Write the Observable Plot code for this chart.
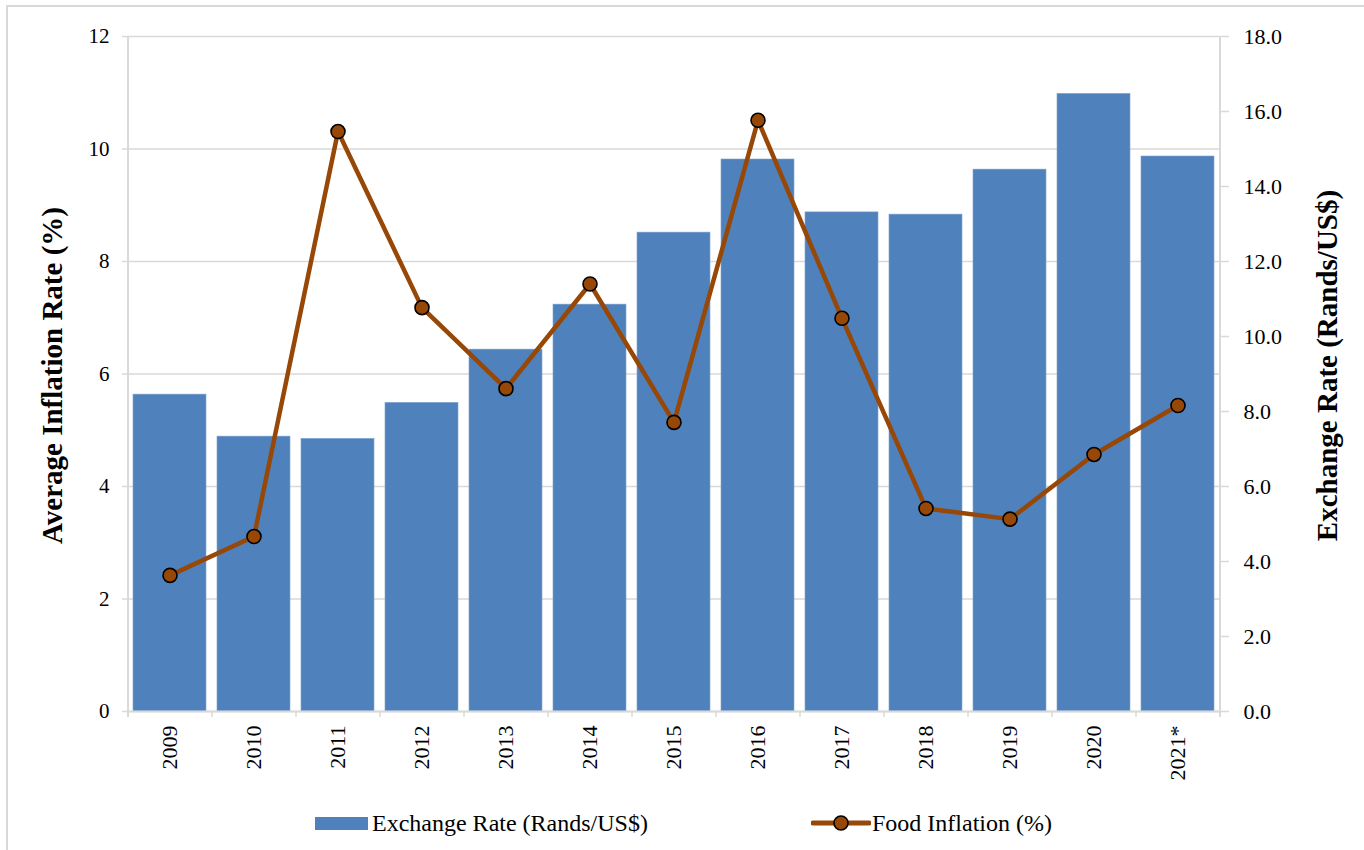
<!DOCTYPE html>
<html>
<head>
<meta charset="utf-8">
<script src="https://cdn.jsdelivr.net/npm/d3@7"></script>
<script src="https://cdn.jsdelivr.net/npm/@observablehq/plot@0.6"></script>
<style>
  html, body { margin: 0; padding: 0; background: #fff; }
  #wrap { position: relative; width: 1364px; height: 850px; overflow: hidden; font-family: "Liberation Serif", "Times New Roman", serif; }
  #frame { position: absolute; left: 6px; top: 5px; right: -10px; bottom: -10px; border-top: 2px solid #d9d9d9; border-left: 2px solid #d9d9d9; }
  #chart { position: absolute; left: 0; top: 0; }
  #legend { position: absolute; top: 808px; left: 0; width: 1364px; height: 30px; font-size: 24px; color: #000; }
  .item { position: absolute; top: 0; height: 30px; display: flex; align-items: center; white-space: nowrap; }
  .swatch { width: 53px; height: 13px; background: #4f81bd; margin-right: 4px; }
</style>
</head>
<body>
<div id="wrap">
  <div id="frame"></div>
  <div id="chart"></div>
  <div id="legend">
    <div class="item" style="left:315px"><div class="swatch"></div><span>Exchange Rate (Rands/US$)</span></div>
    <div class="item" style="left:811px">
      <svg width="60" height="30" style="margin-right:1px"><line x1="2" x2="58" y1="15" y2="15" stroke="#974706" stroke-width="5" stroke-linecap="round"/><circle cx="30" cy="15" r="7" fill="#974706" stroke="#000" stroke-width="1.6"/></svg>
      <span>Food Inflation (%)</span>
    </div>
  </div>
</div>
<script>
const years = ["2009","2010","2011","2012","2013","2014","2015","2016","2017","2018","2019","2020","2021*"];
const exchangeRate = [8.45, 7.33, 7.27, 8.23, 9.65, 10.85, 12.77, 14.72, 13.31, 13.25, 14.45, 16.47, 14.80];
const foodInflation = [2.42, 3.11, 10.31, 7.18, 5.74, 7.60, 5.14, 10.51, 6.99, 3.61, 3.42, 4.57, 5.44];
const leftTicks = [0, 2, 4, 6, 8, 10, 12];
const rightTicks = [0, 2, 4, 6, 8, 10, 12, 14, 16, 18];
const leftMax = 12, rightMax = 18;
const k = leftMax / rightMax;

const data = years.map((year, i) => ({year, rate: exchangeRate[i], food: foodInflation[i]}));
const gridColor = "#d9d9d9";
const font = "'Liberation Serif', 'Times New Roman', serif";

const chart = Plot.plot({
  width: 1364,
  height: 800,
  marginLeft: 128,
  marginRight: 144,
  marginTop: 36,
  marginBottom: 89,
  style: {fontFamily: font, background: "transparent", color: "#000", overflow: "visible"},
  x: {domain: years, paddingInner: 0.13, paddingOuter: 0.065, axis: null},
  y: {domain: [0, leftMax], axis: null},
  marks: [
    Plot.gridY(leftTicks, {stroke: gridColor, strokeOpacity: 1, strokeWidth: 1.5}),
    Plot.barY(data, {x: "year", y: d => d.rate * k, fill: "#4f81bd", stroke: "#7fa3d1", strokeWidth: 0.6}),
    Plot.ruleY([0], {stroke: gridColor, strokeWidth: 2}),
    // left axis ticks and labels
    Plot.axisY(leftTicks, {anchor: "left", text: null, tickSize: 6, stroke: gridColor, strokeWidth: 1.5, label: null}),
    Plot.axisY(leftTicks, {anchor: "left", tickSize: 0, tickPadding: 19, fontSize: 21, label: null, tickFormat: d => String(d)}),
    // right axis (exchange rate)
    Plot.axisY(rightTicks.map(v => v * k), {anchor: "right", text: null, tickSize: 8, stroke: gridColor, strokeWidth: 1.5, label: null}),
    Plot.axisY(rightTicks.map(v => v * k), {anchor: "right", tickSize: 0, tickPadding: 23, fontSize: 22, label: null,
      tickFormat: d => (d / k).toFixed(1)}),
    // x axis labels
    Plot.axisX(years, {anchor: "bottom", tickSize: 0, tickPadding: 14, tickRotate: -90, fontSize: 22, label: null}),
    // food inflation line
    Plot.line(data, {x: "year", y: "food", stroke: "#974706", strokeWidth: 4.5, strokeLinejoin: "round"}),
    Plot.dot(data, {x: "year", y: "food", r: 7, fill: "#974706", stroke: "#000", strokeWidth: 1.6})
  ]
});

document.getElementById("chart").appendChild(chart);

// extra axis lines and boundary ticks drawn from the plot's own scales
const xs = chart.scale("x");
const ys = chart.scale("y");
const [x0, x1] = xs.range;
const step = (x1 - x0) / years.length;
const yTop = ys.apply(leftMax), yBot = ys.apply(0);
const svg = d3.select(chart);
const g = svg.append("g").attr("stroke", gridColor).attr("stroke-width", 1.5);
g.append("line").attr("x1", x0).attr("x2", x0).attr("y1", yTop).attr("y2", yBot + 6).attr("stroke-width", 2);
g.append("line").attr("x1", x1).attr("x2", x1).attr("y1", yTop).attr("y2", yBot + 6).attr("stroke-width", 2);
d3.range(years.length + 1).forEach(i => {
  const x = x0 + i * step;
  g.append("line").attr("x1", x).attr("x2", x).attr("y1", yBot).attr("y2", yBot + 6);
});

// axis titles
svg.append("text")
  .attr("transform", `translate(${x0 - 73},${(yTop + yBot) / 2 + 2}) rotate(-90)`)
  .attr("text-anchor", "middle").attr("dominant-baseline", "middle")
  .attr("font-size", 29).attr("font-weight", "bold").attr("font-family", font).attr("fill", "#000")
  .text("Average Inflation Rate (%)");
svg.append("text")
  .attr("transform", `translate(${x1 + 110},${(yTop + yBot) / 2 - 8}) rotate(-90)`)
  .attr("text-anchor", "middle").attr("dominant-baseline", "middle")
  .attr("font-size", 29).attr("font-weight", "bold").attr("font-family", font).attr("fill", "#000")
  .text("Exchange Rate (Rands/US$)");
</script>
</body>
</html>
